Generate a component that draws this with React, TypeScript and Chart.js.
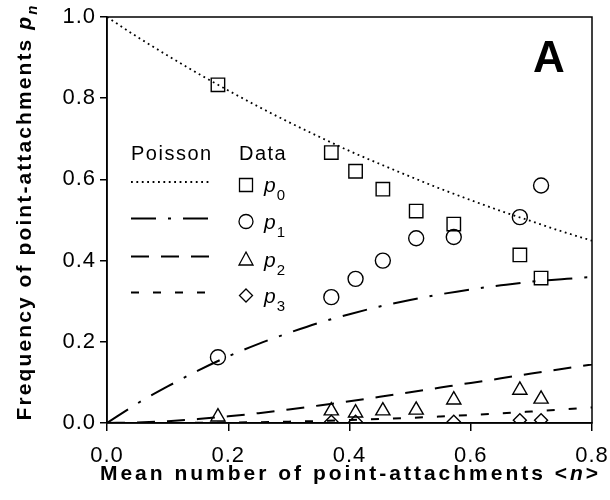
import React, { useEffect, useRef } from "react";
import { Chart, registerables } from "chart.js";

Chart.register(...registerables);

// ---- data ----
const curveX = [0, 0.05, 0.1, 0.15, 0.2, 0.25, 0.3, 0.35, 0.4, 0.45, 0.5, 0.55, 0.6, 0.65, 0.7, 0.75, 0.8];
const poisson0 = [1, 0.951, 0.905, 0.861, 0.819, 0.779, 0.741, 0.705, 0.670, 0.638, 0.607, 0.577, 0.549, 0.522, 0.497, 0.472, 0.449];
const poisson1 = [0, 0.048, 0.090, 0.129, 0.164, 0.195, 0.222, 0.247, 0.268, 0.287, 0.303, 0.317, 0.329, 0.339, 0.348, 0.354, 0.360];
const poisson2 = [0, 0.0012, 0.0045, 0.0097, 0.0164, 0.0243, 0.0333, 0.0432, 0.0536, 0.0646, 0.0758, 0.0873, 0.0988, 0.110, 0.122, 0.133, 0.144];
const poisson3 = [0, 0.00002, 0.00015, 0.0005, 0.0011, 0.0020, 0.0033, 0.0050, 0.0072, 0.0097, 0.0126, 0.0160, 0.0198, 0.0239, 0.0284, 0.0332, 0.0383];

const dataX = [0.183, 0.37, 0.41, 0.455, 0.51, 0.572, 0.681, 0.716];
const data0 = [0.833, 0.666, 0.62, 0.576, 0.522, 0.49, 0.414, 0.357];
const data1 = [0.162, 0.31, 0.355, 0.40, 0.455, 0.458, 0.507, 0.585];
const data2 = [0.015, 0.03, 0.025, 0.03, 0.032, 0.057, 0.081, 0.059];
const data3: (number | null)[] = [null, 0.003, 0.003, null, null, 0.003, 0.007, 0.007];

const xTickValues = [0, 0.2, 0.4, 0.6, 0.8];
const yTickValues = [0, 0.2, 0.4, 0.6, 0.8, 1.0];
const legendHeaders = ["Poisson", "Data"];
const seriesSubscripts = ["0", "1", "2", "3"];
const panelLabel = "A";
const xTitleParts = [
  { text: "Mean number of point-attachments <", italic: false, sub: false },
  { text: "n", italic: true, sub: false },
  { text: ">", italic: false, sub: false },
];
const yTitleParts = [
  { text: "Frequency of point-attachments ", italic: false, sub: false },
  { text: "p", italic: true, sub: false },
  { text: "n", italic: true, sub: true },
];

const FONT = "'Liberation Sans', Arial, Helvetica, sans-serif";

const lineDashes = [
  [1.8, 3.6],
  [25, 12, 3, 12],
  [18, 12],
  [8, 14],
];
const lineWidths = [1.8, 2, 2, 2];

type Part = { text: string; italic: boolean; sub: boolean };

function drawRich(ctx: CanvasRenderingContext2D, parts: Part[], cx: number, y: number, size: number, bold: boolean, spacing: number) {
  const fontFor = (p: Part) =>
    `${p.italic ? "italic " : ""}${bold ? "bold " : ""}${p.sub ? Math.round(size * 0.72) : size}px ${FONT}`;
  (ctx as any).letterSpacing = `${spacing}px`;
  let total = 0;
  const widths = parts.map((p) => {
    ctx.font = fontFor(p);
    const w = ctx.measureText(p.text).width;
    total += w;
    return w;
  });
  let x = cx - total / 2;
  ctx.textAlign = "left";
  ctx.textBaseline = "alphabetic";
  parts.forEach((p, i) => {
    ctx.font = fontFor(p);
    ctx.fillText(p.text, x, p.sub ? y + size * 0.3 : y);
    x += widths[i];
  });
  (ctx as any).letterSpacing = "0px";
}

function drawMarker(ctx: CanvasRenderingContext2D, kind: number, x: number, y: number) {
  ctx.beginPath();
  if (kind === 0) {
    ctx.rect(x - 6.5, y - 6.5, 13, 13);
  } else if (kind === 1) {
    ctx.arc(x, y, 7, 0, Math.PI * 2);
  } else if (kind === 2) {
    ctx.moveTo(x, y - 7.5);
    ctx.lineTo(x + 7, y + 5.5);
    ctx.lineTo(x - 7, y + 5.5);
    ctx.closePath();
  } else {
    ctx.moveTo(x, y - 6.5);
    ctx.lineTo(x + 6.5, y);
    ctx.lineTo(x, y + 6.5);
    ctx.lineTo(x - 6.5, y);
    ctx.closePath();
  }
  ctx.stroke();
}

const decorPlugin = {
  id: "decor",
  beforeDraw(chart: any) {
    (chart.ctx as any).letterSpacing = "1px";
  },
  afterDraw(chart: any) {
    const ctx: CanvasRenderingContext2D = chart.ctx;
    const a = chart.chartArea;
    (ctx as any).letterSpacing = "0px";
    ctx.save();
    ctx.fillStyle = "#000";
    ctx.strokeStyle = "#000";
    // frame
    ctx.lineWidth = 1.5;
    ctx.setLineDash([]);
    ctx.strokeRect(a.left, a.top, a.right - a.left, a.bottom - a.top);

    // panel label
    ctx.font = `bold 44px ${FONT}`;
    ctx.textAlign = "center";
    ctx.textBaseline = "alphabetic";
    ctx.fillText(panelLabel, 549, 72);

    // legend
    (ctx as any).letterSpacing = "1.5px";
    ctx.font = `20px ${FONT}`;
    ctx.textAlign = "left";
    ctx.fillText(legendHeaders[0], 131, 160);
    ctx.fillText(legendHeaders[1], 239, 160);
    (ctx as any).letterSpacing = "0px";
    const rowY = [182, 218.5, 256.5, 292.5];
    seriesSubscripts.forEach((s, i) => {
      const y = rowY[i];
      ctx.lineWidth = lineWidths[i];
      ctx.setLineDash(lineDashes[i]);
      ctx.beginPath();
      ctx.moveTo(131, y);
      ctx.lineTo(211, y);
      ctx.stroke();
      ctx.setLineDash([]);
      ctx.lineWidth = 1.3;
      drawMarker(ctx, i, 246, y + 3);
      ctx.font = `italic 21px ${FONT}`;
      ctx.fillText("p", 264, y + 10);
      const pw = ctx.measureText("p").width;
      ctx.font = `15px ${FONT}`;
      ctx.fillText(s, 264 + pw + 1, y + 18);
    });

    // axis titles
    drawRich(ctx, xTitleParts, (a.left + a.right) / 2 + 1, 480, 21, true, 3.0);
    ctx.save();
    ctx.translate(31, 212);
    ctx.rotate(-Math.PI / 2);
    drawRich(ctx, yTitleParts, 0, 0, 21, true, 2.1);
    ctx.restore();
    ctx.restore();
  },
};

export default function App() {
  const ref = useRef<HTMLCanvasElement>(null);
  useEffect(() => {
    if (!ref.current) return;
    const curves = [poisson0, poisson1, poisson2, poisson3];
    const points = [data0, data1, data2, data3];
    const styles = ["rect", "circle", "triangle", "rectRot"];
    const radii = [9.5, 7.5, 8.2, 6.5];
    const datasets: any[] = [];
    curves.forEach((c, i) => {
      datasets.push({
        data: curveX.map((x, j) => ({ x, y: c[j] })),
        showLine: true,
        pointRadius: 0,
        borderColor: "#000",
        borderWidth: lineWidths[i],
        borderDash: lineDashes[i],
        cubicInterpolationMode: "monotone",
        fill: false,
      });
    });
    points.forEach((p, i) => {
      datasets.push({
        data: dataX.map((x, j) => ({ x, y: p[j] })).filter((d) => d.y !== null),
        showLine: false,
        pointStyle: styles[i],
        pointRadius: radii[i],
        pointBorderColor: "#000",
        pointBackgroundColor: "rgba(0,0,0,0)",
        pointBorderWidth: 1.4,
      });
    });
    const tickFont = { family: FONT, size: 22 };
    const chart = new Chart(ref.current, {
      type: "scatter",
      data: { datasets },
      options: {
        animation: false,
        responsive: false,
        maintainAspectRatio: false,
        layout: { padding: { left: 0, top: 17, right: 18, bottom: 0 } },
        plugins: { legend: { display: false }, tooltip: { enabled: false } },
        scales: {
          x: {
            type: "linear",
            min: 0,
            max: 0.8,
            afterFit: (s: any) => {
              s.height = 77;
              s.paddingLeft = 0;
              s.paddingRight = 0;
            },
            afterBuildTicks: (s: any) => {
              s.ticks = xTickValues.map((v) => ({ value: v }));
            },
            ticks: {
              color: "#000",
              font: tickFont,
              padding: 12,
              maxRotation: 0,
              callback: (v: any) => Number(v).toFixed(1),
            },
            grid: { drawOnChartArea: false, drawTicks: true, tickLength: 8, color: "#000", lineWidth: 1.5 },
            border: { display: true, color: "#000", width: 1.5 },
          },
          y: {
            type: "linear",
            min: 0,
            max: 1,
            afterFit: (s: any) => {
              s.width = 107;
              s.paddingTop = 0;
              s.paddingBottom = 0;
            },
            afterBuildTicks: (s: any) => {
              s.ticks = yTickValues.map((v) => ({ value: v }));
            },
            ticks: {
              color: "#000",
              font: tickFont,
              padding: 4,
              callback: (v: any) => Number(v).toFixed(1),
            },
            grid: { drawOnChartArea: false, drawTicks: true, tickLength: 7, color: "#000", lineWidth: 1.5 },
            border: { display: true, color: "#000", width: 1.5 },
          },
        },
      },
      plugins: [decorPlugin],
    });
    return () => chart.destroy();
  }, []);
  return (
    <div style={{ position: "absolute", left: 0, top: 0, width: 610, height: 500, background: "#fff" }}>
      <canvas ref={ref} width={610} height={500} />
    </div>
  );
}
